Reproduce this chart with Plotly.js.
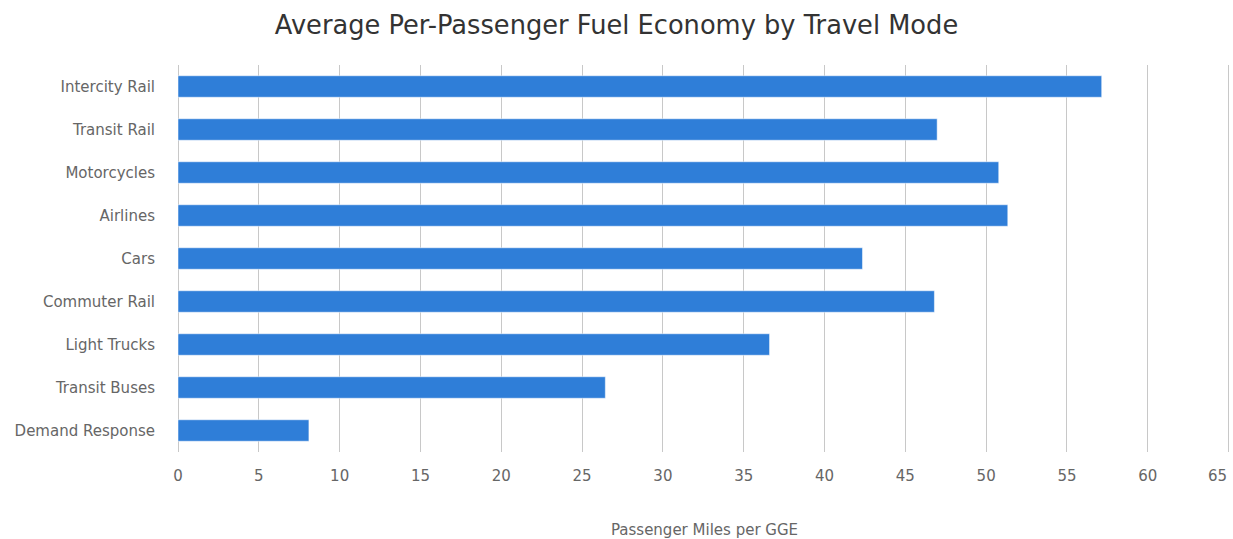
<!DOCTYPE html>
<html>
<head>
<meta charset="utf-8">
<script src="https://cdn.plot.ly/plotly-3.0.1.min.js"></script>
<style>html,body{margin:0;padding:0;background:#fff;}#chart{width:1233px;height:539px;}</style>
</head>
<body>
<div id="chart"></div>
<script>
const categories = ["Intercity Rail", "Transit Rail", "Motorcycles", "Airlines", "Cars", "Commuter Rail", "Light Trucks", "Transit Buses", "Demand Response"];
const mpgge = [57.15, 46.97, 50.78, 51.34, 42.35, 46.8, 36.6, 26.44, 8.1];
const xTicks = [0, 5, 10, 15, 20, 25, 30, 35, 40, 45, 50, 55, 60, 65];
const xTickLabels = ["0", "5", "10", "15", "20", "25", "30", "35", "40", "45", "50", "55", "60", "65"];

const lastIdx = xTicks.length - 1;

const trace = {
  type: "bar",
  orientation: "h",
  y: categories,
  x: mpgge,
  marker: { color: "#2F7ED8", line: { color: "rgba(255,255,255,0.5)", width: 1 } },
  hoverinfo: "x+y"
};

const layout = {
  width: 1233,
  height: 539,
  margin: { l: 178, r: 2, t: 65, b: 87 },
  paper_bgcolor: "#ffffff",
  plot_bgcolor: "#ffffff",
  font: { family: "DejaVu Sans, sans-serif", color: "#666666", size: 15 },
  title: {
    text: "Average Per-Passenger Fuel Economy by Travel Mode",
    font: { family: "DejaVu Sans, sans-serif", size: 25.7, color: "#333333" },
    x: 0.5, xanchor: "center", xref: "container", y: 0.953, yanchor: "middle", yref: "container"
  },
  bargap: 0.5,
  showlegend: false,
  xaxis: {
    range: [0, 65.15],
    tickvals: xTicks,
    ticktext: xTickLabels.map((t, i) => i === lastIdx ? "" : t),
    showgrid: true,
    gridcolor: "#C8C8C8",
    gridwidth: 1,
    zeroline: true,
    zerolinecolor: "#C8C8C8",
    zerolinewidth: 1,
    showline: false,
    ticks: "outside",
    ticklen: 10,
    tickcolor: "rgba(0,0,0,0)",
    tickfont: { size: 15, color: "#666666" },
    title: { text: "Passenger Miles per GGE", font: { size: 15, color: "#666666" }, standoff: 44 },
    automargin: false,
    fixedrange: true
  },
  yaxis: {
    type: "category",
    autorange: "reversed",
    showgrid: false,
    showline: false,
    zeroline: false,
    ticks: "outside",
    ticklen: 19,
    tickcolor: "rgba(0,0,0,0)",
    tickfont: { size: 15, color: "#666666" },
    automargin: false,
    fixedrange: true
  },
  annotations: [{
    text: xTickLabels[lastIdx],
    x: xTicks[lastIdx], xref: "x", xanchor: "right",
    y: 0, yref: "paper", yanchor: "middle", yshift: -24,
    showarrow: false,
    font: { size: 15, color: "#666666" }
  }]
};

Plotly.newPlot("chart", [trace], layout, { displayModeBar: false, responsive: false });
</script>
</body>
</html>
